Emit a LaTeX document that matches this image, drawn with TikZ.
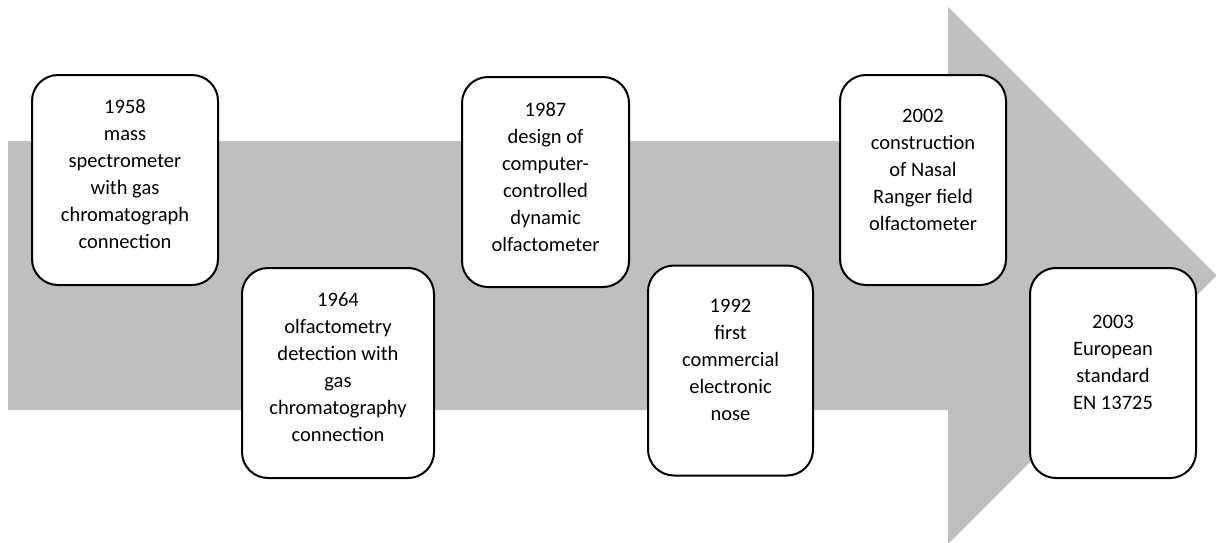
\documentclass[tikz,border=0pt]{standalone}
\usepackage{fontspec}
\setmainfont{Carlito}
\usetikzlibrary{positioning}
\definecolor{arrowgray}{HTML}{BFBFBF}

\begin{document}
\begin{tikzpicture}[
    x=1pt, y=-1pt,
    event/.style={
        draw=black,
        line width=2pt,
        fill=white,
        rounded corners=26pt,
        minimum height=210pt,
        minimum width=#1,
        inner sep=0pt
    },
    event/.default=166pt,
    milestone/.style={
        align=center,
        inner sep=0pt,
        font=\fontsize{20.5}{27}\selectfont
    }
]
\useasboundingbox (0,0) rectangle (1216,542);
% timeline arrow
\fill [arrowgray] (8,141) -- (948,141) -- (948,7) -- (1216.5,275.5)
    -- (948,544) -- (948,410) -- (8,410) -- cycle;

% boxes, alternately above and below
\node [event=186pt] (box 1958) at (125,180) {};
\node [event=192pt] (box 1964) at (338,373) {};
\node [event=167pt] (box 1987) at (545.5,182) {};
\node [event=165pt] (box 1992) at (730.5,370.5) {};
\node [event] (box 2002) at (923,180) {};
\node [event] (box 2003) at (1113,373) {};

\node [milestone, below=25.4pt of box 1958.north] (text 1958)
    {1958\\mass\\spectrometer\\with gas\\chromatograph\\connection};
\node [milestone, below=25.4pt of box 1964.north] (text 1964)
    {1964\\olfactometry\\detection with\\gas\\chromatography\\connection};
\node [milestone, below=26.4pt of box 1987.north] (text 1987)
    {1987\\design of\\computer-\\controlled\\dynamic\\olfactometer};
\node [milestone, below=34.4pt of box 1992.north] (text 1992)
    {1992\\first\\commercial\\electronic\\nose};
\node [milestone, below=35.4pt of box 2002.north] (text 2002)
    {2002\\construction\\of Nasal\\Ranger field\\olfactometer};
\node [milestone, below=48.4pt of box 2003.north] (text 2003)
    {2003\\European\\standard\\EN 13725};
\end{tikzpicture}
\end{document}
